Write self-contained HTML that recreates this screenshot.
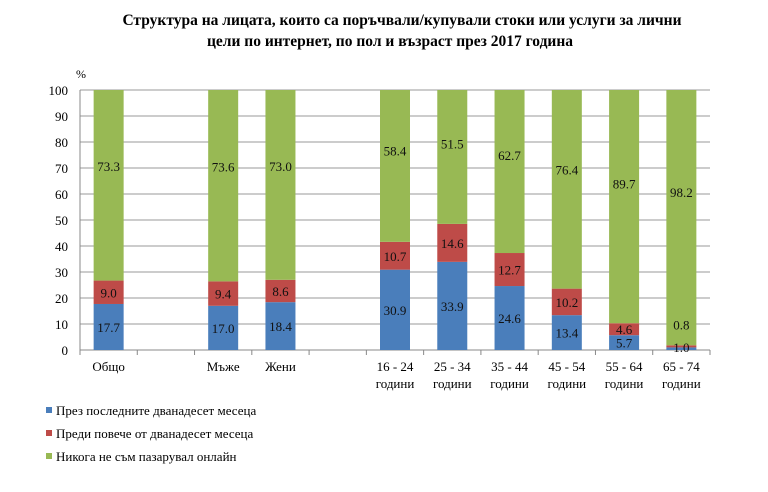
<!DOCTYPE html>
<html><head><meta charset="utf-8"><style>
body{margin:0;background:#fff;width:768px;height:487px;overflow:hidden}
svg{font-family:"Liberation Serif",serif}
</style></head><body>
<svg id="c" width="768" height="487">
<text x="402" y="25" text-anchor="middle" font-size="15.5" font-weight="bold">Структура на лицата, които са поръчвали/купували стоки или услуги за лични</text>
<text x="390" y="46" text-anchor="middle" font-size="15.5" font-weight="bold">цели по интернет, по пол и възраст през 2017 година</text>
<text x="76" y="78" font-size="12">%</text>
<g id="grid"></g><g id="bars"></g><g id="labels"></g><g id="axes"></g>
<g>
<rect x="46" y="407" width="6" height="6" fill="#4a7ebb"/>
<text x="56" y="415" font-size="13">През последните дванадесет месеца</text>
<rect x="46" y="430" width="6" height="6" fill="#be4b48"/>
<text x="56" y="438" font-size="13">Преди повече от дванадесет месеца</text>
<rect x="46" y="453" width="6" height="6" fill="#98b954"/>
<text x="56" y="461" font-size="13">Никога не съм пазарувал онлайн</text>
</g>
</svg>
<script>
const categories=["Общо","","Мъже","Жени","","16 - 24|години","25 - 34|години","35 - 44|години","45 - 54|години","55 - 64|години","65 - 74|години"];
const lastYear=[17.7,null,17.0,18.4,null,30.9,33.9,24.6,13.4,5.7,1.0];
const earlier=[9.0,null,9.4,8.6,null,10.7,14.6,12.7,10.2,4.6,0.8];
const never=[73.3,null,73.6,73.0,null,58.4,51.5,62.7,76.4,89.7,98.2];
const yTicks=[0,10,20,30,40,50,60,70,80,90,100];
const NS="http://www.w3.org/2000/svg";
const X0=80,X1=710,Y0=350,Y1=90,bw=30;
const step=(X1-X0)/categories.length;
const y=v=>Y0-(v/100)*(Y0-Y1);
const xc=i=>X0+step*(i+0.5);
function mk(t,a,p){const e=document.createElementNS(NS,t);for(const k in a)e.setAttribute(k,a[k]);p.appendChild(e);return e;}
const grid=document.getElementById('grid'),bars=document.getElementById('bars'),labels=document.getElementById('labels'),axes=document.getElementById('axes');
yTicks.forEach(t=>{
 const l=mk('line',{x1:X0,x2:X1,y1:y(t),y2:y(t),stroke:t===0?'#888':'#999','stroke-width':1},grid);
 
 
 const tx=mk('text',{x:X0-12,y:y(t)+5,'text-anchor':'end','font-size':13},axes);
 tx.textContent=t;
 
 
});
mk('line',{x1:X0,x2:X0,y1:Y1,y2:Y0,stroke:'#888'},axes);
for(let i=0;i<=categories.length;i++){mk('line',{x1:X0+step*i,x2:X0+step*i,y1:Y0,y2:Y0+5,stroke:'#888'},axes);}
const series=[[lastYear,'#4a7ebb','last-12-months'],[earlier,'#be4b48','more-than-12-months'],[never,'#98b954','never']];
categories.forEach((c,i)=>{
 if(lastYear[i]!==null){
  let acc=0;
  series.forEach(([arr,col,nm],si)=>{
   const v=arr[i];
   const r=mk('rect',{x:xc(i)-bw/2,y:y(acc+v),width:bw,height:y(acc)-y(acc+v),fill:col},bars);
   
   
   let ly=(y(acc)+y(acc+v))/2+5;
   if(si===2&&v>50) ly=y(acc+v*0.6)+5;
   if(v<2){ly= si===0? Y0+2 : y(acc)-18;}
   const t=mk('text',{x:xc(i),y:ly,'text-anchor':'middle','font-size':13,fill:'#111'},labels);
   t.textContent=v.toFixed(1);
   
   
   acc+=v;
  });
 }
 if(c){
  c.split('|').forEach((ln,k)=>{
   const t=mk('text',{x:xc(i),y:Y0+21+k*17,'text-anchor':'middle','font-size':13},axes);
   t.textContent=ln;
   
   
  });
 }
});
</script>
</body></html>
